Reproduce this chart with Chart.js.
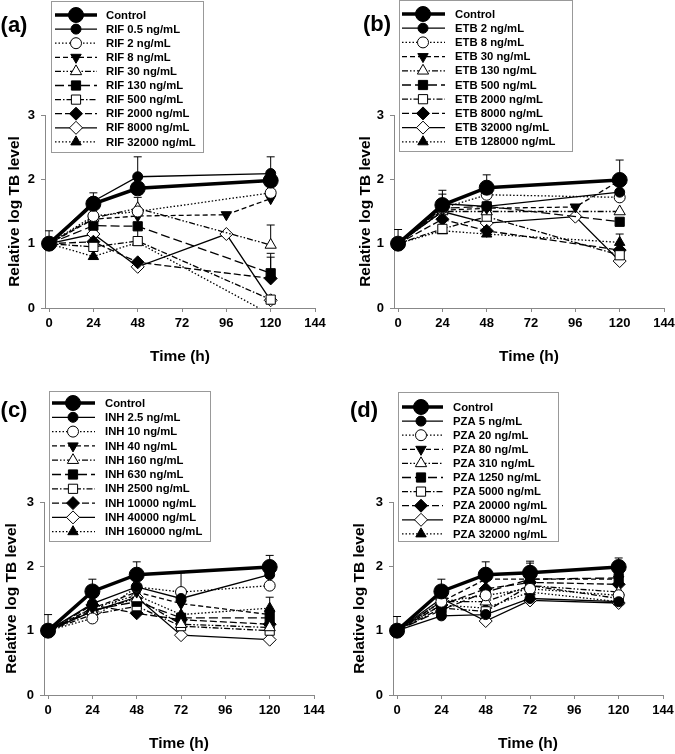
<!DOCTYPE html>
<html><head><meta charset="utf-8">
<script src="https://cdn.jsdelivr.net/npm/chart.js@4.4.0/dist/chart.umd.min.js"></script>
<style>
html,body{margin:0;padding:0;background:#fff;}
#wrap{position:relative;width:675px;height:754px;overflow:hidden;background:#fff;}
canvas{position:absolute;display:block;}
</style></head><body>
<div id="wrap">
<canvas id="cA" width="337" height="367" style="left:0;top:0"></canvas>
<canvas id="cB" width="338" height="367" style="left:337px;top:0"></canvas>
<canvas id="cC" width="337" height="367" style="left:0;top:387px"></canvas>
<canvas id="cD" width="338" height="367" style="left:337px;top:387px"></canvas>
</div>
<script>
// ---------------- DATA ----------------
const timesRIF = [0, 24, 48, 96, 120];
const timesETB = [0, 24, 48, 96, 120];
const timesINH = [0, 24, 48, 72, 120];
const timesPZA = [0, 24, 48, 72, 120];

const xTickValues = [0, 24, 48, 72, 96, 120, 144];
const yTickValues = [0, 1, 2, 3];

const seriesRIF = ['Control','RIF 0.5 ng/mL','RIF 2 ng/mL','RIF 8 ng/mL','RIF 30 ng/mL','RIF 130 ng/mL','RIF 500 ng/mL','RIF 2000 ng/mL','RIF 8000 ng/mL','RIF 32000 ng/mL'];
const seriesETB = ['Control','ETB 2 ng/mL','ETB 8 ng/mL','ETB 30 ng/mL','ETB 130 ng/mL','ETB 500 ng/mL','ETB 2000 ng/mL','ETB 8000 ng/mL','ETB 32000 ng/mL','ETB 128000 ng/mL'];
const seriesINH = ['Control','INH 2.5 ng/mL','INH 10 ng/mL','INH 40 ng/mL','INH 160 ng/mL','INH 630 ng/mL','INH 2500 ng/mL','INH 10000 ng/mL','INH 40000 ng/mL','INH 160000 ng/mL'];
const seriesPZA = ['Control','PZA 5 ng/mL','PZA 20 ng/mL','PZA 80 ng/mL','PZA 310 ng/mL','PZA 1250 ng/mL','PZA 5000 ng/mL','PZA 20000 ng/mL','PZA 80000 ng/mL','PZA 32000 ng/mL'];

const valuesRIF = [
  [1, 1.62, 1.86, null, 1.98],
  [1, 1.66, 2.04, null, 2.09],
  [1, 1.43, 1.50, null, 1.79],
  [1, 1.38, 1.43, 1.45, 1.70],
  [1, 1.40, 1.55, null, 0.98],
  [1, 1.28, 1.27, null, 0.54],
  [1, 0.95, 1.04, null, 0.13],
  [1, 1.03, 0.71, null, 0.46],
  [1, 1.15, 0.64, 1.15, 0.12],
  [1, 0.80, 1.02, null, -0.10]
];
const errorsRIF = [
  [0.20, 0.17, null, null, null],
  [null, null, 0.31, null, 0.26],
  [null, null, null, null, null],
  [null, null, null, null, null],
  [null, null, 0.17, null, 0.31],
  [null, null, null, null, 0.31],
  [null, null, null, null, null],
  [null, null, null, null, 0.33],
  [null, null, null, null, null],
  [null, null, 0.22, null, null]
];

const valuesETB = [
  [1, 1.60, 1.87, null, 1.99],
  [1, 1.62, 1.58, null, 1.80],
  [1, 1.55, 1.76, null, 1.72],
  [1, 1.52, 1.55, 1.57, 1.98],
  [1, 1.50, 1.50, null, 1.50],
  [1, 1.55, 1.58, null, 1.34],
  [1, 1.23, 1.42, null, 0.82],
  [1, 1.38, 1.20, null, 0.90],
  [1, 1.50, 1.32, 1.42, 0.73],
  [1, 1.20, 1.15, null, 1.02]
];
const errorsETB = [
  [0.22, 0.23, 0.20, null, 0.31],
  [null, 0.15, null, null, null],
  [null, null, null, null, null],
  [null, null, null, null, null],
  [null, null, null, null, null],
  [null, null, null, null, null],
  [null, null, null, null, null],
  [null, null, null, null, null],
  [null, null, null, null, null],
  [null, null, null, null, 0.13]
];

const valuesINH = [
  [1, 1.61, 1.87, null, 1.99],
  [1, 1.42, 1.68, 1.50, 1.87],
  [1, 1.19, 1.68, 1.60, 1.70],
  [1, 1.35, 1.60, 1.42, 1.25],
  [1, 1.30, 1.50, 1.10, 1.05],
  [1, 1.32, 1.45, 1.20, 1.20],
  [1, 1.25, 1.38, 1.07, 1.00],
  [1, 1.40, 1.27, 1.17, 1.10],
  [1, 1.30, 1.52, 0.93, 0.86],
  [1, 1.35, 1.55, 1.25, 1.35]
];
const errorsINH = [
  [0.25, 0.19, 0.20, null, 0.18],
  [null, null, null, null, null],
  [null, null, null, 0.30, null],
  [null, null, null, null, null],
  [null, null, null, null, null],
  [null, null, null, null, null],
  [null, null, null, null, null],
  [null, null, null, null, null],
  [null, null, null, null, null],
  [null, null, null, null, 0.17]
];

const valuesPZA = [
  [1, 1.61, 1.87, 1.90, 1.99],
  [1, 1.23, 1.25, 1.50, 1.45],
  [1, 1.45, 1.55, 1.65, 1.55],
  [1, 1.45, 1.80, 1.80, 1.80],
  [1, 1.45, 1.45, 1.70, 1.60],
  [1, 1.32, 1.60, 1.80, 1.82],
  [1, 1.35, 1.30, 1.70, 1.50],
  [1, 1.40, 1.65, 1.75, 1.72],
  [1, 1.50, 1.15, 1.47, 1.43],
  [1, 1.40, 1.35, 1.60, 1.45]
];
const errorsPZA = [
  [0.22, 0.19, 0.20, 0.18, 0.14],
  [null, null, null, null, null],
  [null, null, null, null, null],
  [null, null, null, null, null],
  [null, null, null, null, null],
  [null, null, null, 0.25, null],
  [null, null, null, null, null],
  [null, null, null, null, null],
  [null, null, null, null, null],
  [null, null, null, null, null]
];

// ---------------- STYLE ----------------
const FONT = '"Liberation Sans", Arial, Helvetica, sans-serif';
const STY = [
  {dash:[], w:3.5, shape:'circle', rot:0, fill:true, r:7.5},
  {dash:[], w:1.3, shape:'circle', rot:0, fill:true, r:5},
  {dash:[1.5,2], w:1.3, shape:'circle', rot:0, fill:false, r:5.5},
  {dash:[5,3], w:1.3, shape:'triangle', rot:180, fill:true, r:6},
  {dash:[6,2,1.5,2,1.5,2], w:1.3, shape:'triangle', rot:0, fill:false, r:6.5},
  {dash:[9,4], w:1.3, shape:'rect', rot:0, fill:true, r:6.5},
  {dash:[6,2,1.5,2], w:1.3, shape:'rect', rot:0, fill:false, r:6.5},
  {dash:[7,3], w:1.3, shape:'rectRot', rot:0, fill:true, r:6.5},
  {dash:[], w:1.3, shape:'rectRot', rot:0, fill:false, r:6.5},
  {dash:[1.5,2], w:1.3, shape:'triangle', rot:0, fill:true, r:6}
];

const LAYOUT = {
  cA: {tag:'(a)', tagX:14, tagY:26, yW:45, padR:22, yTitlePad:5,
       box:[51,1,204,153], y0:15, dy:14.1, sx1:55, sx2:97, mx:76, tx:106},
  cB: {tag:'(b)', tagX:40, tagY:25, yW:57, padR:11, yTitlePad:19,
       box:[62,0,236,152], y0:14, dy:14.2, sx1:65, sx2:108, mx:86, tx:118},
  cC: {tag:'(c)', tagX:14, tagY:24, yW:44, padR:23, yTitlePad:2,
       box:[49,4,211,155], y0:16, dy:14.3, sx1:52, sx2:95, mx:73, tx:105},
  cD: {tag:'(d)', tagX:27, tagY:24, yW:56, padR:12, yTitlePad:13,
       box:[61,5,222,155], y0:20, dy:14.1, sx1:65, sx2:106, mx:84, tx:116}
};

function drawMark(ctx, shape, x, y, r, rotDeg, fill) {
  ctx.save();
  ctx.setLineDash([]);
  ctx.lineWidth = 1;
  ctx.fillStyle = fill ? '#000' : '#fff';
  ctx.strokeStyle = '#000';
  ctx.beginPath();
  let rad = rotDeg * Math.PI / 180;
  if (shape === 'circle') {
    ctx.arc(x, y, r, 0, Math.PI * 2);
  } else if (shape === 'triangle') {
    for (let k = 0; k < 3; k++) {
      const px = x + Math.sin(rad) * r, py = y - Math.cos(rad) * r;
      if (k === 0) ctx.moveTo(px, py); else ctx.lineTo(px, py);
      rad += 2 * Math.PI / 3;
    }
    ctx.closePath();
  } else if (shape === 'rect') {
    const s = r * Math.SQRT1_2;
    ctx.rect(x - s, y - s, 2 * s, 2 * s);
  } else if (shape === 'rectRot') {
    ctx.moveTo(x - r, y); ctx.lineTo(x, y - r); ctx.lineTo(x + r, y); ctx.lineTo(x, y + r);
    ctx.closePath();
  }
  ctx.fill();
  ctx.stroke();
  ctx.restore();
}

const errorBarPlugin = {
  id: 'errBars',
  beforeDatasetsDraw(chart) {
    const ctx = chart.ctx, xs = chart.scales.x, ys = chart.scales.y;
    ctx.save();
    ctx.strokeStyle = '#000';
    ctx.lineWidth = 1;
    ctx.setLineDash([]);
    chart.data.datasets.forEach(ds => {
      (ds.errBars || []).forEach(p => {
        const px = xs.getPixelForValue(p.x);
        const py = ys.getPixelForValue(p.y);
        const pt = ys.getPixelForValue(p.y + p.e);
        ctx.beginPath();
        ctx.moveTo(px, py); ctx.lineTo(px, pt);
        ctx.moveTo(px - 4, pt); ctx.lineTo(px + 4, pt);
        ctx.stroke();
      });
    });
    ctx.restore();
  }
};

const legendPlugin = {
  id: 'panelLegend',
  afterDraw(chart) {
    const L = LAYOUT[chart.canvas.id];
    const ctx = chart.ctx;
    ctx.save();
    const [x1, y1, x2, y2] = L.box;
    ctx.fillStyle = '#fff';
    ctx.fillRect(x1, y1, x2 - x1, y2 - y1);
    ctx.strokeStyle = '#999';
    ctx.lineWidth = 1;
    ctx.strokeRect(x1 + 0.5, y1 + 0.5, x2 - x1 - 1, y2 - y1 - 1);
    chart.data.datasets.forEach((ds, i) => {
      const st = STY[i];
      const y = L.y0 + i * L.dy;
      ctx.strokeStyle = '#000';
      ctx.lineWidth = st.w;
      ctx.setLineDash(st.dash);
      ctx.beginPath(); ctx.moveTo(L.sx1, y); ctx.lineTo(L.sx2, y); ctx.stroke();
      ctx.setLineDash([]);
      drawMark(ctx, st.shape, L.mx, y, st.r, st.rot, st.fill);
      ctx.fillStyle = '#000';
      ctx.font = 'bold 11.3px ' + FONT;
      ctx.textBaseline = 'middle';
      ctx.textAlign = 'left';
      ctx.fillText(ds.label, L.tx, y + 0.5);
    });
    ctx.font = 'bold 22px ' + FONT;
    ctx.textAlign = 'center';
    ctx.textBaseline = 'middle';
    ctx.fillStyle = '#000';
    ctx.fillText(L.tag, L.tagX, L.tagY);
    ctx.restore();
  }
};

function makeChart(id, times, names, values, errors) {
  const L = LAYOUT[id];
  const datasets = names.map((name, i) => {
    const st = STY[i];
    const pts = [], eb = [];
    times.forEach((t, j) => {
      const v = values[i][j];
      if (v === null) return;
      pts.push({x: t, y: v});
      const e = errors[i][j];
      if (e !== null) eb.push({x: t, y: v, e: e});
    });
    return {
      label: name,
      data: pts,
      errBars: eb,
      borderColor: '#000',
      borderWidth: st.w,
      borderDash: st.dash,
      pointStyle: st.shape,
      pointRotation: st.rot,
      pointRadius: st.r,
      pointHoverRadius: st.r,
      pointBackgroundColor: st.fill ? '#000' : '#fff',
      pointBorderColor: '#000',
      pointBorderWidth: 1,
      tension: 0,
      fill: false,
      clip: {left: 20, top: 40, right: 20, bottom: 0}
    };
  });
  const tickFont = {family: FONT, size: 13, weight: 'bold'};
  const titleFont = {family: FONT, size: 15.5, weight: 'bold'};
  return new Chart(document.getElementById(id), {
    type: 'line',
    data: {datasets},
    options: {
      responsive: false,
      animation: false,
      events: [],
      layout: {padding: {top: 115, right: L.padR, left: 0, bottom: 0}},
      plugins: {legend: {display: false}, tooltip: {enabled: false}},
      scales: {
        x: {
          type: 'linear', min: -2.2, max: xTickValues[xTickValues.length - 1], bounds: 'data',
          ticks: {font: tickFont, color: '#000', padding: 4, maxRotation: 0, autoSkip: false},
          afterBuildTicks(s) { s.ticks = xTickValues.map(v => ({value: v})); },
          grid: {drawOnChartArea: false, drawTicks: true, tickLength: 4, color: '#888'},
          border: {color: '#888', width: 1},
          title: {display: true, text: 'Time (h)', font: titleFont, color: '#000', padding: {top: 0, bottom: 1}},
          afterFit(s) { s.height = 59; s.paddingLeft = 0; s.paddingRight = 0; }
        },
        y: {
          type: 'linear', min: yTickValues[0], max: yTickValues[yTickValues.length - 1],
          ticks: {font: tickFont, color: '#000', padding: 6},
          afterBuildTicks(s) { s.ticks = yTickValues.map(v => ({value: v})); },
          grid: {drawOnChartArea: false, drawTicks: true, tickLength: 4, color: '#888'},
          border: {color: '#888', width: 1},
          title: {display: true, text: 'Relative log TB level', font: titleFont, color: '#000', padding: {top: L.yTitlePad, bottom: 0}},
          afterFit(s) { s.width = L.yW; s.paddingTop = 0; s.paddingBottom = 0; }
        }
      }
    },
    plugins: [errorBarPlugin, legendPlugin]
  });
}

makeChart('cA', timesRIF, seriesRIF, valuesRIF, errorsRIF);
makeChart('cB', timesETB, seriesETB, valuesETB, errorsETB);
makeChart('cC', timesINH, seriesINH, valuesINH, errorsINH);
makeChart('cD', timesPZA, seriesPZA, valuesPZA, errorsPZA);
</script>
</body></html>
